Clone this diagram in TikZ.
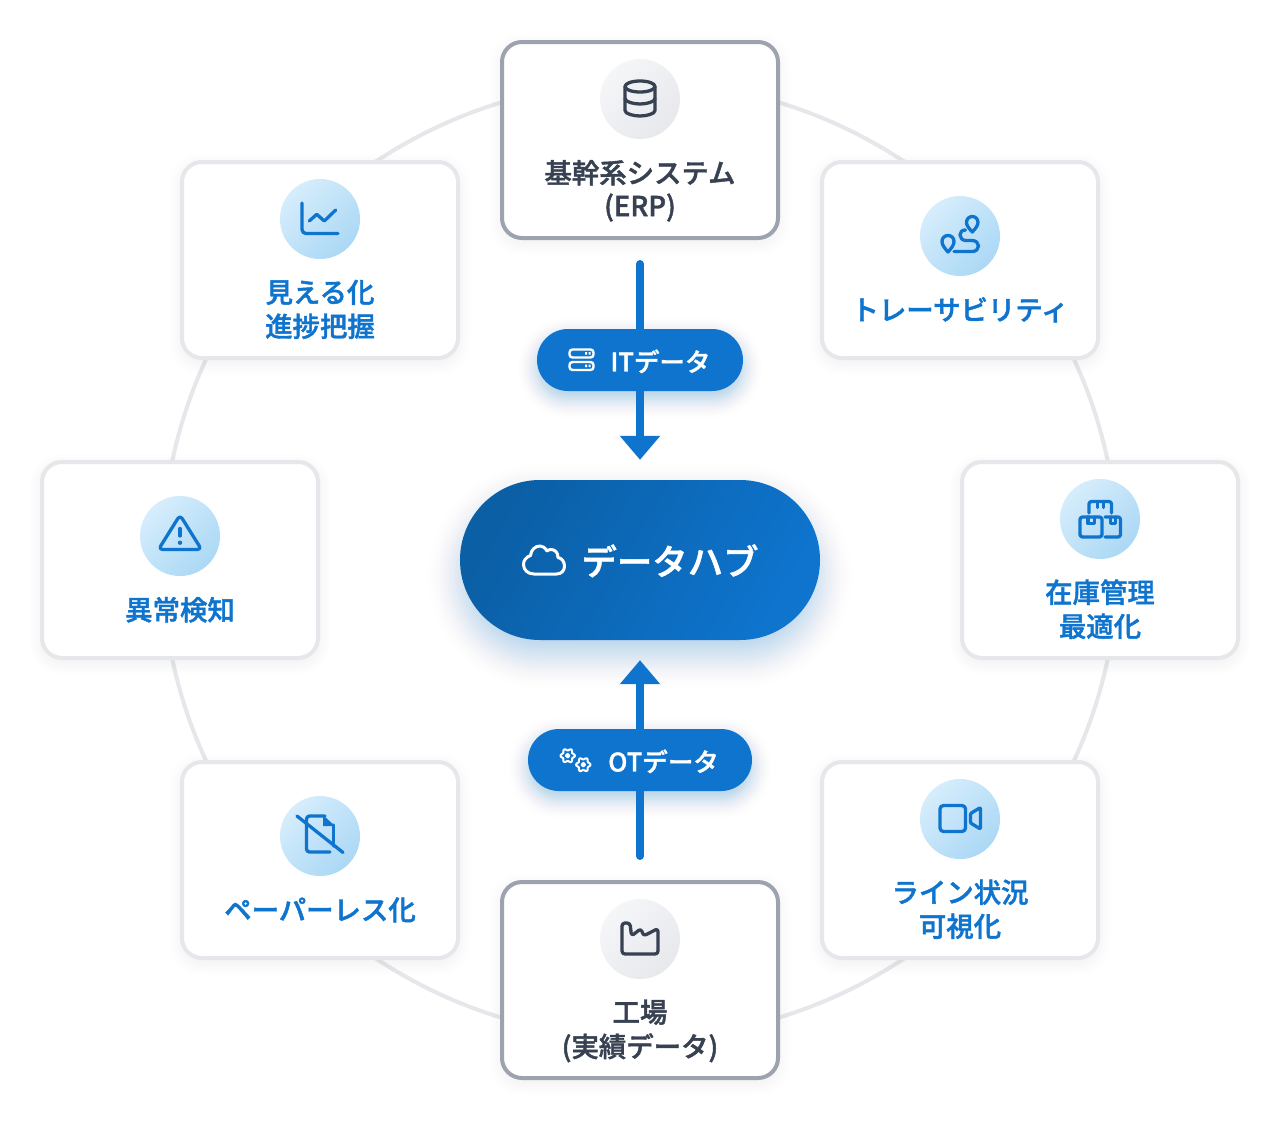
\documentclass[tikz,border=0pt]{standalone}
\usepackage{fontspec}
\setmainfont{Noto Sans CJK JP}
\newfontfamily\labelfont[FakeBold=1.5]{Noto Sans CJK JP Medium}
\usetikzlibrary{arrows.meta}
\definecolor{hubblue}{HTML}{0E74CE}
\definecolor{hubdark}{HTML}{0B5FA5}
\definecolor{inkdark}{HTML}{374151}
\definecolor{edgegray}{HTML}{9CA3AF}
\definecolor{edgelight}{HTML}{E5E7EB}
\definecolor{iconA}{HTML}{D6EDFC}
\definecolor{iconB}{HTML}{ABD8F5}
\definecolor{grayA}{HTML}{F5F6F8}
\definecolor{grayB}{HTML}{E6E8EC}
% cx cy w h r sigma colour total-alpha : gaussian-weighted stack of rounded boxes
\newcommand{\softshadow}[8]{%
  \foreach \i in {-12,...,12}{%
    \pgfmathsetmacro{\tt}{\i/6}%
    \pgfmathsetmacro{\ee}{#6*\tt}%
    \pgfmathsetmacro{\rr}{max(#5+\ee,0.5)}%
    \pgfmathsetmacro{\aa}{#8*0.0665*exp(-\tt*\tt/2)}%
    \fill[#7,fill opacity=\aa,rounded corners=\rr pt]
      ({#1-#3/2-\ee},{#2-#4/2-\ee}) rectangle ({#1+#3/2+\ee},{#2+#4/2+\ee});
  }%
}
\newcommand{\cardshadow}[2]{\softshadow{#1}{#2}{280}{200}{22}{9}{black}{0.07}}
\tikzset{
  cardlight/.style={draw=edgelight,line width=4pt,fill=white,rounded corners=20pt,minimum width=276pt,minimum height=196pt,inner sep=0pt},
  carddark/.style={cardlight,draw=edgegray},
  iconblue/.style={circle,minimum size=80pt,inner sep=0pt,top color=iconA,bottom color=iconB,shading angle=45},
  icongray/.style={circle,minimum size=80pt,inner sep=0pt,top color=grayA,bottom color=grayB,shading angle=45},
  bluetext/.style={text=hubblue,align=center,inner sep=0pt,font=\fontsize{27.4}{33}\selectfont\labelfont},
  darktext/.style={bluetext,text=inkdark},
  pillbox/.style={fill=hubblue,rounded corners=31pt,minimum height=62pt,inner sep=0pt},
  pilltext/.style={text=white,inner sep=0pt,font=\fontsize{25.5}{30}\selectfont\labelfont},
  ringline/.style={draw=edgelight,line width=4pt},
  bluestroke/.style={draw=hubblue,line width=3.3pt,line cap=round,line join=round},
  darkstroke/.style={draw=inkdark,line width=3.3pt,line cap=round,line join=round},
  whitestroke/.style={draw=white,line width=2.4pt,line cap=round,line join=round},
  flowarrow/.style={draw=hubblue,line width=8pt,line cap=round,-{Triangle[length=24pt,width=39pt]}},
}
\begin{document}
\begin{tikzpicture}[x=1pt,y=-1pt]
\useasboundingbox (0,0) rectangle (1280,1120);
\fill[white] (0,0) rectangle (1280,1120);
\draw[ringline] (640,560) circle [radius=478pt];
% card shadows
\cardshadow{640}{144}\cardshadow{320}{264}\cardshadow{960}{264}\cardshadow{1100}{564}
\cardshadow{180}{564}\cardshadow{960}{864}\cardshadow{320}{864}\cardshadow{640}{984}
% cards
\node[carddark]  (erp)     at (640,140) {};
\node[carddark]  (factory) at (640,980) {};
\node[cardlight] (visual)  at (320,260) {};
\node[cardlight] (trace)   at (960,260) {};
\node[cardlight] (stock)   at (1100,560) {};
\node[cardlight] (anomaly) at (180,560) {};
\node[cardlight] (line)    at (960,860) {};
\node[cardlight] (paper)   at (320,860) {};
% icon discs
\node[icongray] (erpdisc)     at (640,99) {};
\node[icongray] (factorydisc) at (640,939) {};
\node[iconblue] (visualdisc)  at (320,219) {};
\node[iconblue] (tracedisc)   at (960,236) {};
\node[iconblue] (stockdisc)   at (1100,519) {};
\node[iconblue] (anomalydisc) at (180,536) {};
\node[iconblue] (linedisc)    at (960,819) {};
\node[iconblue] (paperdisc)   at (320,836) {};
% labels
\node[darktext] (erptext)     at (640,193) {\strut 基幹系システム\\\strut (ERP)};
\node[darktext] (factorytext) at (640,1033) {\strut 工場\\\strut (実績データ)};
\node[bluetext] (visualtext)  at (320,313) {\strut 見える化\\\strut 進捗把握};
\node[bluetext] (tracetext)   at (960,313.5) {\strut トレーサビリティ};
\node[bluetext] (stocktext)   at (1100,613) {\strut 在庫管理\\\strut 最適化};
\node[bluetext] (anomalytext) at (180,613.5) {\strut 異常検知};
\node[bluetext] (linetext)    at (960,913) {\strut ライン状況\\\strut 可視化};
\node[bluetext] (papertext)   at (320,913.5) {\strut ペーパーレス化};
% database
\draw[darkstroke] (640,86.5) ellipse [x radius=15pt,y radius=5.5pt];
\draw[darkstroke] (625,86.5) -- (625,110.5) .. controls (625,114) and (634,116) .. (640,116) .. controls (646,116) and (655,114) .. (655,110.5) -- (655,86.5);
\draw[darkstroke] (625,98.5) .. controls (625,102) and (634,104) .. (640,104) .. controls (646,104) and (655,102) .. (655,98.5);
% factory
\draw[darkstroke,rounded corners=3pt] (622,923) -- (630,923) -- (631.5,936) -- (641,928.5) -- (643.5,936) -- (658,928.5) -- (658,954) -- (622,954) -- cycle;
% chart
\draw[bluestroke,rounded corners=4pt] (302,203) -- (302,233.5) -- (338,233.5);
\draw[bluestroke] (309.3,221) -- (316.7,214.3) -- (324.3,221) -- (335.7,210);
% route
\draw[bluestroke] (972.3,232) .. controls (969,228.5) and (966.5,225.5) .. (966.5,222.5) .. controls (966.5,219) and (969,216.5) .. (972.3,216.5) .. controls (975.5,216.5) and (978,219) .. (978,222.5) .. controls (978,225.5) and (975.5,228.5) .. (972.3,232) -- cycle;
\draw[bluestroke] (948,252) .. controls (944.5,248) and (942,245) .. (942,241.5) .. controls (942,238) and (944.5,235.5) .. (948,235.5) .. controls (951.5,235.5) and (954,238) .. (954,241.5) .. controls (954,245) and (951.5,248) .. (948,252) -- cycle;
\draw[bluestroke] (954,251.5) -- (972,251.5) .. controls (976,251.5) and (978.5,249) .. (978.5,246) .. controls (978.5,243) and (976,240.5) .. (972,240.5) -- (966,240.5) .. controls (962.5,240.5) and (960,238) .. (960,235) .. controls (960,232) and (962,230) .. (965.5,230);
% packages
\draw[bluestroke,rounded corners=2.5pt] (1089,513) -- (1089,501.5) -- (1111.5,501.5) -- (1111.5,513);
\draw[bluestroke] (1097.3,501.5) -- (1097.3,507.5) (1103.5,501.5) -- (1103.5,507.5);
\draw[bluestroke,rounded corners=2.5pt] (1080,517) rectangle (1102,537);
\draw[bluestroke] (1088,517) -- (1088,523.5) -- (1094.5,523.5) -- (1094.5,517);
\draw[bluestroke,rounded corners=2.5pt] (1105,517) -- (1120.5,517) -- (1120.5,537) -- (1105,537);
\draw[bluestroke] (1110.5,517) -- (1110.5,523.5) -- (1115.5,523.5) -- (1115.5,517);
% warning
\draw[bluestroke,rounded corners=4pt] (180,515) -- (158.5,549.5) -- (201.5,549.5) -- cycle;
\draw[bluestroke] (180,528.5) -- (180,536);
\fill[hubblue] (180,542.7) circle [radius=2.2pt];
% video
\draw[bluestroke,rounded corners=3.5pt] (940,805.5) rectangle (965.5,831.5);
\draw[bluestroke,rounded corners=1pt] (970.5,813.5) -- (980.5,807.5) -- (980.5,829) -- (970.5,823) -- cycle;
% no paper
\draw[bluestroke,rounded corners=3pt] (325,816) -- (306.5,816) -- (306.5,852) -- (330,852);
\draw[bluestroke] (333.5,825) -- (333.5,846);
\fill[hubblue] (323,815) -- (335,826) -- (323,826) -- cycle;
\draw[bluestroke] (297,816) -- (343,852.5);
% hub
\softshadow{640}{576}{360}{160}{80}{16}{hubblue}{0.3}
\node[minimum width=360pt,minimum height=160pt,rounded corners=80pt,inner sep=0pt,top color=hubdark,bottom color=hubblue,shading angle=60] (hub) at (640,560) {};
\node[text=white,inner sep=0pt,font=\fontsize{35.4}{42}\selectfont\labelfont] (hubtext) at (670,566) {\strut データハブ};
\draw[draw=white,line width=3pt,line cap=round,line join=round] (534,574) -- (556.5,574) .. controls (561.5,574) and (564.5,570.5) .. (564.5,566) .. controls (564.5,561.5) and (561.5,558) .. (558,557.5) .. controls (558,552.5) and (555,549.5) .. (551,549.5) .. controls (549.5,549.5) and (548,550) .. (547,551) .. controls (545,547.5) and (542.5,546) .. (540,546) .. controls (535,546) and (531,550) .. (530.5,555.5) .. controls (526,557) and (523.5,560.5) .. (523.5,564.5) .. controls (523.5,570) and (528,574) .. (534,574) -- cycle;
% arrows
\draw[flowarrow,shorten <=24pt,shorten >=20pt] (erp.south) -- (hub.north);
\draw[flowarrow,shorten <=24pt,shorten >=20pt] (factory.north) -- (hub.south);
% pills
\softshadow{640}{368}{206}{62}{31}{10}{hubblue}{0.35}
\softshadow{640}{768}{224}{62}{31}{10}{hubblue}{0.35}
\node[pillbox,minimum width=206pt] (itpill) at (640,360) {};
\node[pillbox,minimum width=224pt] (otpill) at (640,760) {};
\node[pilltext] (ittext) at (660.5,365) {\strut ITデータ};
\node[pilltext] (ottext) at (663.5,765) {\strut OTデータ};
% server icon
\draw[whitestroke,rounded corners=3pt] (569.5,349.5) rectangle (593.5,357.5);
\draw[whitestroke,rounded corners=3pt] (569.5,362) rectangle (593.5,370);
\fill[white] (585,352) rectangle (587,354.5) (588.5,352) rectangle (590.5,354.5) (585,364.5) rectangle (587,367) (588.5,364.5) rectangle (590.5,367);
% gears
\draw[whitestroke,line width=2pt] plot[domain=0:360,samples=49] ({567.7+(6.2+1*cos(6*\x))*cos(\x)},{755.7+(6.2+1*cos(6*\x))*sin(\x)}) -- cycle;
\draw[whitestroke,line width=2pt] (567.7,755.7) circle [radius=1.8pt];
\draw[whitestroke,line width=2pt] plot[domain=0:360,samples=49] ({583.3+(6.2+1*cos(6*\x))*cos(\x)},{764.7+(6.2+1*cos(6*\x))*sin(\x)}) -- cycle;
\draw[whitestroke,line width=2pt] (583.3,764.7) circle [radius=1.8pt];
\end{tikzpicture}
\end{document}
